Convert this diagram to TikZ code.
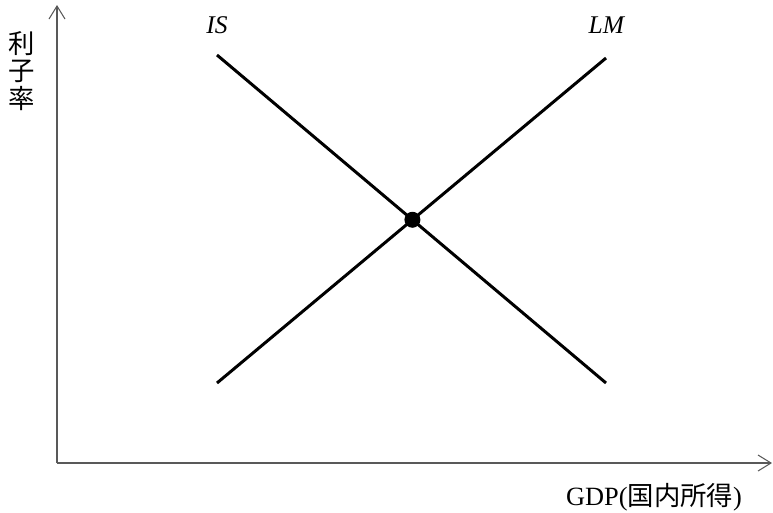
\documentclass[tikz,border=0pt]{standalone}
\usepackage{fontspec}
\usepackage{amsmath}
\usetikzlibrary{arrows.meta}
\setmainfont{Liberation Serif}
\newfontfamily\cjk{Noto Sans CJK JP}
\begin{document}
\begin{tikzpicture}[x=0.02cm, y=-0.02cm]
                    \useasboundingbox (0,0) rectangle (773,512);
                    % Nodes
                    \coordinate (O) at (57,463);
                    \coordinate (ytop) at (57,5);
                    \coordinate (xend) at (772,463);
                    \coordinate (is1) at (217,55);
                    \coordinate (is2) at (606,383);
                    \coordinate (lm1) at (217,383);
                    \coordinate (lm2) at (606,58);
                    \node (islabel) at (217,25) {\fontsize{14.5}{17}\selectfont\textit{IS}};
                    \node (lmlabel) at (607,25) {\fontsize{14.5}{17}\selectfont\textit{LM}};
                    \node[align=center, inner sep=0pt, font=\cjk\fontsize{15}{15.5}\selectfont] (ylabel) at (22,71) {利\\子\\率};
                    \node (xlabel) at (654,497) {\fontsize{15}{17}\selectfont GDP({\cjk 国内所得})};
                    % Edges
                    \draw[-{Straight Barb[length=0.26cm, width=0.32cm]}, gray!70!black, line width=0.6pt] (O) -- (ytop);
                    \draw[-{Straight Barb[length=0.26cm, width=0.32cm]}, gray!70!black, line width=0.6pt] (O) -- (xend);
                    \draw[line width=1.7pt] (is1) -- (is2);
                    \draw[line width=1.7pt] (lm1) -- (lm2);
                    \node[circle, fill, inner sep=0pt, minimum size=0.32cm] (eq) at (intersection of is1--is2 and lm1--lm2) {};
                \end{tikzpicture}
\end{document}
